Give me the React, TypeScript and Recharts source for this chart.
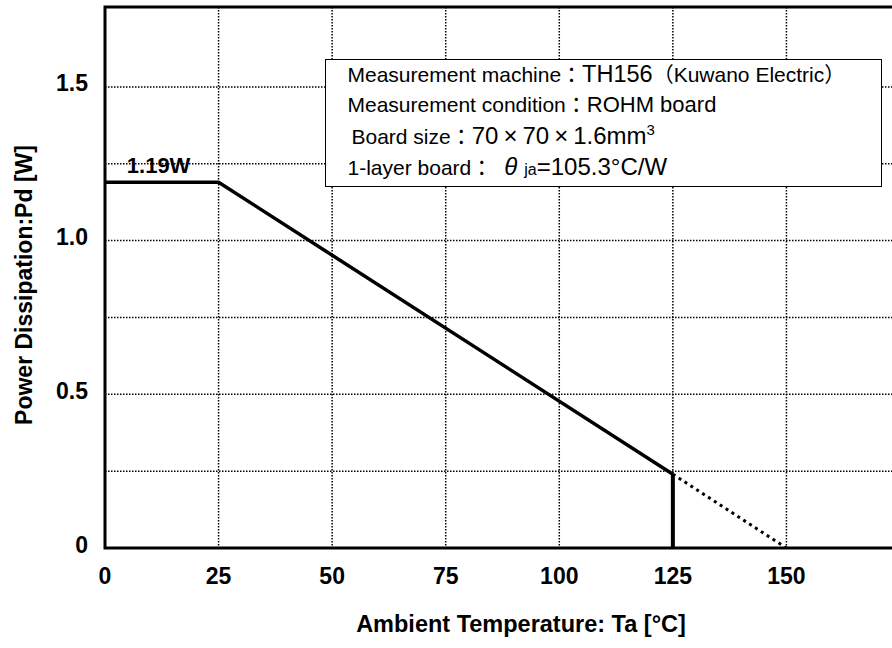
import React from 'react';
import { LineChart, Line, XAxis, YAxis, CartesianGrid, ReferenceArea, ReferenceDot } from 'recharts';

const FONT = "'Liberation Sans', Arial, 'Noto Sans CJK JP', sans-serif";
const CJK = "'Noto Sans CJK JP', sans-serif";

// derating curve
const ratedTemp = [0, 25, 125];
const ratedPd = [1.19, 1.19, 0.24];
const extTemp = [125, 150];
const extPd = [0.24, 0];
const cutTemp = [125, 125];
const cutPd = [0, 0.24];

const xTicks = [0, 25, 50, 75, 100, 125, 150];
const yTicks = [0, 0.25, 0.5, 0.75, 1, 1.25, 1.5];
const yTickLabels = ['0', '', '0.5', '', '1.0', '', '1.5'];

const X_MAX = 175;
const Y_MAX = 1.76;

const toPoints = (ta: number[], pd: number[]) => ta.map((t, i) => ({ ta: t, pd: pd[i] }));

const boldText = { fontFamily: FONT, fontWeight: 'bold', fontSize: 23, fill: '#000' } as const;

const XTick = ({ x, y, payload }: any) => (
  <text x={x} y={y + 33.5} textAnchor="middle" style={boldText}>
    {payload.value}
  </text>
);

const YTick = ({ x, y, payload }: any) => {
  const i = yTicks.indexOf(payload.value);
  return (
    <text x={x} y={y - 3.5} textAnchor="end" dominantBaseline="central" style={boldText}>
      {yTickLabels[i] ?? ''}
    </text>
  );
};

const XTitle = () => (
  <text x={521} y={631.5} textAnchor="middle" style={{ ...boldText, fontSize: 23.5 }}>
    Ambient Temperature: Ta [°C]
  </text>
);

const YTitle = () => (
  <text
    x={24}
    y={285}
    transform="rotate(-90, 24, 285)"
    textAnchor="middle"
    dominantBaseline="central"
    style={boldText}
  >
    Power Dissipation:Pd [W]
  </text>
);

const lineStyle: React.CSSProperties = {
  position: 'absolute',
  height: 31,
  lineHeight: '31px',
  whiteSpace: 'nowrap',
  fontSize: 21,
};
const big: React.CSSProperties = { fontSize: 24, lineHeight: 1 };
const cjk: React.CSSProperties = { fontFamily: CJK, lineHeight: 1 };
const times: React.CSSProperties = { margin: '0 5px' };

const InfoBox = () => (
  <div
    style={{
      position: 'absolute',
      left: 325,
      top: 59,
      width: 557,
      height: 128,
      boxSizing: 'border-box',
      border: '1.5px solid #000',
      background: '#fff',
      fontFamily: FONT,
      color: '#000',
    }}
  >
    <div style={{ ...lineStyle, left: 21.5, top: -1 }}>
      Measurement machine<span style={cjk}>：</span>
      <span style={{ fontSize: 23.5, lineHeight: 1 }}>TH156</span>
      <span style={cjk}>（</span>Kuwano Electric<span style={cjk}>）</span>
    </div>
    <div style={{ ...lineStyle, left: 21.5, top: 29 }}>
      Measurement condition<span style={cjk}>：</span>
      <span style={{ fontSize: 22, lineHeight: 1 }}>ROHM board</span>
    </div>
    <div style={{ ...lineStyle, left: 25.5, top: 61 }}>
      Board size<span style={cjk}>：</span>
      <span style={big}>
        70<span style={times}>×</span>70<span style={times}>×</span>1.6mm
        <sup style={{ fontSize: 15, lineHeight: 1 }}>3</sup>
      </span>
    </div>
    <div style={{ ...lineStyle, left: 21.5, top: 92 }}>
      1-layer board<span style={cjk}>：</span>
      <span style={{ fontSize: 24, fontStyle: 'italic', lineHeight: 1, marginLeft: 12 }}>θ</span>
      <span style={{ fontSize: 16, lineHeight: 1, marginLeft: 7 }}>ja</span>
      <span style={big}>=105.3°C/W</span>
    </div>
  </div>
);

export default function App() {
  return (
    <div style={{ position: 'absolute', left: 0, top: 0, width: 892, height: 648, overflow: 'hidden', background: '#fff' }}>
      <LineChart
        width={910}
        height={648}
        margin={{ top: 7, right: 10, bottom: 40, left: 0 }}
      >
        <CartesianGrid stroke="#000" strokeWidth={1.5} strokeDasharray="1.5 1.5" />
        <XAxis
          dataKey="ta"
          type="number"
          domain={[0, X_MAX]}
          ticks={xTicks}
          axisLine={false}
          tickLine={false}
          tickSize={0}
          tick={<XTick />}
          height={60}
          label={<XTitle />}
          allowDataOverflow
        />
        <YAxis
          dataKey="pd"
          type="number"
          domain={[0, Y_MAX]}
          ticks={yTicks}
          axisLine={false}
          tickLine={false}
          tickSize={0}
          tickMargin={17}
          tick={<YTick />}
          width={105}
          label={<YTitle />}
          allowDataOverflow
        />
        <ReferenceArea x1={0} x2={X_MAX} y1={0} y2={Y_MAX} fill="none" stroke="#000" strokeWidth={3} />
        <Line
          data={toPoints(ratedTemp, ratedPd)}
          dataKey="pd"
          stroke="#000"
          strokeWidth={3.5}
          dot={false}
          isAnimationActive={false}
        />
        <Line
          data={toPoints(extTemp, extPd)}
          dataKey="pd"
          stroke="#000"
          strokeWidth={3}
          strokeDasharray="3 4"
          dot={false}
          isAnimationActive={false}
        />
        <Line
          data={toPoints(cutTemp, cutPd)}
          dataKey="pd"
          stroke="#000"
          strokeWidth={4}
          dot={false}
          isAnimationActive={false}
        />
        <ReferenceDot
          x={11.8}
          y={1.19}
          r={0}
          fill="none"
          stroke="none"
          label={{ value: '1.19W', position: 'top', offset: 9, style: { ...boldText, fontSize: 22 } }}
        />
      </LineChart>
      <InfoBox />
    </div>
  );
}
